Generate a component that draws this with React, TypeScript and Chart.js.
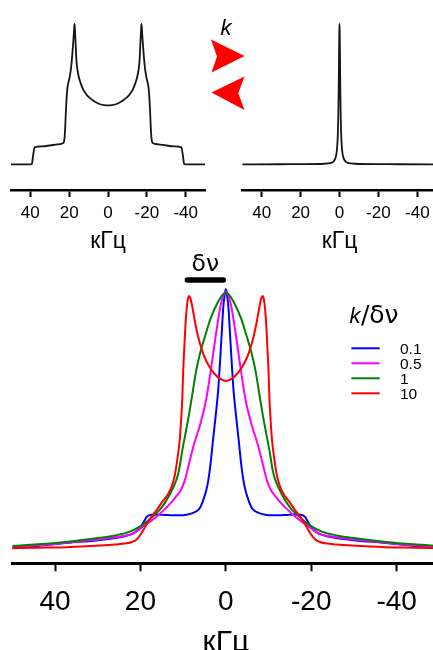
import React, { useEffect, useRef } from 'react';
import { Chart, registerables } from 'chart.js';

Chart.register(...registerables);

// Frequency offsets in kHz, intensities normalised to the tallest peak of each panel.
const tickValues = [-40, -20, 0, 20, 40];

// Slow exchange: static powder pattern
const staticFreq = [
  50, 45, 40, 39.2, 38.6, 37.8, 34, 30, 26, 23.2, 22.6, 22.2, 21.6, 21.0, 20.6, 19.7, 19.0, 18.4,
  17.9, 17.6, 17.4, 17.2, 17.0, 16.7, 16.3, 15.8, 15.0, 14.0, 13.0, 11.5, 10, 8, 6, 4, 2, 0,
  -2, -4, -6, -8, -10, -11.5, -13, -14, -15, -15.8, -16.3, -16.7, -17.0, -17.2, -17.4, -17.6,
  -17.9, -18.4, -19.0, -19.7, -20.6, -21.0, -21.6, -22.2, -22.6, -23.2, -26, -30, -34, -37.8,
  -38.6, -39.2, -40, -45, -50,
];
const staticIntensity = [
  0, 0, 0, 0.003, 0.06, 0.121, 0.128, 0.134, 0.142, 0.15, 0.165, 0.22, 0.4, 0.53, 0.57, 0.624,
  0.69, 0.78, 0.87, 0.93, 0.975, 1.0, 0.95, 0.87, 0.75, 0.68, 0.62, 0.575, 0.54, 0.505, 0.48,
  0.458, 0.44, 0.428, 0.422, 0.42,
  0.422, 0.428, 0.44, 0.458, 0.48, 0.505, 0.54, 0.575, 0.62, 0.68, 0.75, 0.87, 0.95, 1.0, 0.975,
  0.93, 0.87, 0.78, 0.69, 0.624, 0.57, 0.53, 0.4, 0.22, 0.165, 0.15, 0.142, 0.134, 0.128, 0.121,
  0.06, 0.003, 0, 0, 0,
];

// Fast exchange: single narrow line
const narrowFreq = [
  50, 30, 20, 10, 6, 4, 3, 2.2, 1.7, 1.3, 1.0, 0.8, 0.6, 0.45, 0.3, 0.2, 0.1, 0,
  -0.1, -0.2, -0.3, -0.45, -0.6, -0.8, -1.0, -1.3, -1.7, -2.2, -3, -4, -6, -10, -20, -30, -50,
];
const narrowIntensity = [
  0, 0.0005, 0.001, 0.002, 0.006, 0.012, 0.022, 0.04, 0.065, 0.107, 0.17, 0.24, 0.36, 0.5, 0.69,
  0.84, 0.95, 1.0,
  0.95, 0.84, 0.69, 0.5, 0.36, 0.24, 0.17, 0.107, 0.065, 0.04, 0.022, 0.012, 0.006, 0.002, 0.001,
  0.0005, 0,
];

// Intermediate exchange, series labelled by k/δν
const ratioLabels = ['0.1', '0.5', '1', '10'];
const ratioColors = ['#0000ff', '#ff00ff', '#008000', '#ff0000'];

const freqK01 = [
  50, 44, 37.5, 29.5, 24, 21.7, 20.1, 19.2, 18.5, 17.5, 16.2, 14, 12.3, 10.5, 9.2, 8.0, 6.9, 6.0,
  5.3, 4.6, 4.1, 3.5, 3.0, 2.4, 1.8, 1.4, 1.0, 0.6, 0.3, 0,
  -0.3, -0.6, -1.0, -1.4, -1.8, -2.4, -3.0, -3.5, -4.1, -4.6, -5.3, -6.0, -6.9, -8.0, -9.2, -10.5,
  -12.3, -14, -16.2, -17.5, -18.5, -19.2, -20.1, -21.7, -24, -29.5, -37.5, -44, -50,
];
const intK01 = [
  0.004, 0.012, 0.023, 0.035, 0.048, 0.06, 0.08, 0.105, 0.124, 0.132, 0.133, 0.131, 0.13, 0.13,
  0.132, 0.137, 0.145, 0.16, 0.188, 0.225, 0.265, 0.34, 0.42, 0.51, 0.61, 0.71, 0.82, 0.93, 0.975,
  1.0,
  0.975, 0.93, 0.82, 0.71, 0.61, 0.51, 0.42, 0.34, 0.265, 0.225, 0.188, 0.16, 0.145, 0.137, 0.132,
  0.13, 0.13, 0.131, 0.133, 0.132, 0.124, 0.105, 0.08, 0.06, 0.048, 0.035, 0.023, 0.012, 0.004,
];

const freqK05 = [
  50, 44, 37.5, 29.5, 26, 22, 19.4, 18.5, 16.2, 13.9, 12.6, 11.5, 10.5, 9.6, 8.6, 7.5, 6.0, 4.6,
  3.5, 2.4, 1.25, 0.6, 0,
  -0.6, -1.25, -2.4, -3.5, -4.6, -6.0, -7.5, -8.6, -9.6, -10.5, -11.5, -12.6, -13.9, -16.2, -18.5,
  -19.4, -22, -26, -29.5, -37.5, -44, -50,
];
const intK05 = [
  0.007, 0.014, 0.024, 0.037, 0.045, 0.058, 0.086, 0.096, 0.125, 0.16, 0.182, 0.205, 0.228, 0.265,
  0.33, 0.4, 0.48, 0.575, 0.69, 0.817, 0.935, 0.975, 0.99,
  0.975, 0.935, 0.817, 0.69, 0.575, 0.48, 0.4, 0.33, 0.265, 0.228, 0.205, 0.182, 0.16, 0.125,
  0.096, 0.086, 0.058, 0.045, 0.037, 0.024, 0.014, 0.007,
];

const freqK1 = [
  50, 44, 37.5, 29.5, 26, 22.5, 19.5, 17, 15, 13.2, 11.6, 11.0, 10.3, 9.5, 8.6, 7.8, 6.9, 6.0, 4.9,
  3.5, 2.0, 1.0, 0,
  -1.0, -2.0, -3.5, -4.9, -6.0, -6.9, -7.8, -8.6, -9.5, -10.3, -11.0, -11.6, -13.2, -15, -17,
  -19.5, -22.5, -26, -29.5, -37.5, -44, -50,
];
const intK1 = [
  0.012, 0.018, 0.027, 0.043, 0.052, 0.067, 0.093, 0.127, 0.16, 0.208, 0.265, 0.3, 0.37, 0.44,
  0.52, 0.6, 0.69, 0.755, 0.817, 0.89, 0.945, 0.973, 0.986,
  0.973, 0.945, 0.89, 0.817, 0.755, 0.69, 0.6, 0.52, 0.44, 0.37, 0.3, 0.265, 0.208, 0.16, 0.127,
  0.093, 0.067, 0.052, 0.043, 0.027, 0.018, 0.012,
];

const freqK10 = [
  50, 44, 37.3, 29.5, 26, 23.3, 22, 20.9, 20.0, 19.0, 17.8, 16.2, 14.7, 13.7, 12.8, 12.0, 11.4,
  10.8, 10.5, 10.2, 10.0, 9.8, 9.5, 9.2, 8.9, 8.6, 8.3, 7.9, 7.3, 6.5, 5.5, 4.5, 3.4, 2.5, 1.5, 0,
  -1.5, -2.5, -3.4, -4.5, -5.5, -6.5, -7.3, -7.9, -8.3, -8.6, -8.9, -9.2, -9.5, -9.8, -10.0,
  -10.2, -10.5, -10.8, -11.4, -12.0, -12.8, -13.7, -14.7, -16.2, -17.8, -19.0, -20.0, -20.9, -22,
  -23.3, -26, -29.5, -37.3, -44, -50,
];
const intK10 = [
  0.003, 0.005, 0.007, 0.013, 0.017, 0.022, 0.027, 0.037, 0.055, 0.082, 0.115, 0.15, 0.185,
  0.207, 0.235, 0.28, 0.34, 0.42, 0.49, 0.58, 0.68, 0.75, 0.85, 0.92, 0.96, 0.973, 0.965, 0.935,
  0.88, 0.817, 0.76, 0.72, 0.69, 0.671, 0.656, 0.646,
  0.656, 0.671, 0.69, 0.72, 0.76, 0.817, 0.88, 0.935, 0.965, 0.973, 0.96, 0.92, 0.85, 0.75, 0.68,
  0.58, 0.49, 0.42, 0.34, 0.28, 0.235, 0.207, 0.185, 0.15, 0.115, 0.082, 0.055, 0.037, 0.027,
  0.022, 0.017, 0.013, 0.007, 0.005, 0.003,
];

// Span of the δν bar above the spectra (kHz)
const deltaNuSpan = [9.0, 0.6];

const FONT = "'Liberation Sans', Arial, Helvetica, sans-serif";
const GREEK = "'DejaVu Sans', 'Liberation Sans', sans-serif";

const toPoints = (xs: number[], ys: number[]) => xs.map((x, i) => ({ x, y: ys[i] }));

function freqAxis(o: {
  size: number;
  titleSize: number;
  tickLength: number;
  tickPad: number;
  titlePadTop: number;
  border: number;
}) {
  return {
    type: 'linear' as const,
    reverse: true,
    min: -50,
    max: 50,
    afterBuildTicks: (scale: any) => {
      scale.ticks = tickValues.map((v) => ({ value: v }));
    },
    border: { display: true, color: '#000', width: o.border },
    grid: {
      display: true,
      drawOnChartArea: false,
      drawTicks: true,
      tickLength: o.tickLength,
      tickWidth: 2,
      tickColor: '#000',
    },
    ticks: {
      color: '#000',
      padding: o.tickPad,
      maxRotation: 0,
      autoSkip: false,
      font: { family: FONT, size: o.size },
      callback: (v: any) => String(v),
    },
    title: {
      display: true,
      text: 'кГц',
      color: '#000',
      font: { family: FONT, size: o.titleSize },
      padding: { top: o.titlePadTop, bottom: 0 },
    },
  };
}

const baseOptions = {
  responsive: false,
  animation: false as const,
  devicePixelRatio: 1,
  events: [] as any[],
  plugins: { legend: { display: false }, tooltip: { enabled: false } },
};

const lineStyle = {
  pointRadius: 0,
  fill: false,
  cubicInterpolationMode: 'monotone' as const,
};

// Red exchange arrows and the rate label k, left of the fast-exchange panel
const exchangeMarks = {
  id: 'exchangeMarks',
  afterDraw(chart: any) {
    const { ctx } = chart;
    ctx.save();
    ctx.fillStyle = '#ff0000';
    ctx.beginPath();
    ctx.moveTo(11, 39.5);
    ctx.lineTo(44.5, 56);
    ctx.lineTo(11.5, 72.5);
    ctx.lineTo(17, 56.5);
    ctx.closePath();
    ctx.fill();
    ctx.beginPath();
    ctx.moveTo(44.5, 76.5);
    ctx.lineTo(11.5, 92.5);
    ctx.lineTo(44.5, 110);
    ctx.lineTo(38.3, 93.3);
    ctx.closePath();
    ctx.fill();
    ctx.fillStyle = '#000';
    ctx.font = `italic 22px ${FONT}`;
    ctx.textAlign = 'center';
    ctx.textBaseline = 'alphabetic';
    ctx.fillText('k', 26, 35);
    ctx.restore();
  },
};

// δν bar with its label, and the k/δν legend
const exchangeLegend = {
  id: 'exchangeLegend',
  afterDatasetsDraw(chart: any) {
    const { ctx, chartArea, scales } = chart;
    const xs = scales.x;
    ctx.save();
    const xa = xs.getPixelForValue(deltaNuSpan[0]);
    const xb = xs.getPixelForValue(deltaNuSpan[1]);
    const yBar = chartArea.top;
    ctx.strokeStyle = '#000';
    ctx.lineWidth = 5.5;
    ctx.lineCap = 'round';
    ctx.beginPath();
    ctx.moveTo(xa, yBar);
    ctx.lineTo(xb, yBar);
    ctx.stroke();

    ctx.fillStyle = '#000';
    ctx.textBaseline = 'alphabetic';
    ctx.textAlign = 'center';
    ctx.font = `23.5px ${GREEK}`;
    ctx.fillText('δν', (xa + xb) / 2, yBar - 9.5);

    const lx = chartArea.right - 88;
    const ty = chartArea.top + 42.5;
    ctx.textAlign = 'left';
    ctx.font = `italic 22px ${FONT}`;
    ctx.fillText('k', lx - 2, ty);
    const kw = ctx.measureText('k').width;
    ctx.font = `25px ${GREEK}`;
    ctx.fillText('/δν', lx - 2 + kw + 0.5, ty);

    ctx.lineCap = 'butt';
    ctx.lineWidth = 2;
    ctx.font = `15.5px ${FONT}`;
    ctx.textBaseline = 'middle';
    chart.data.datasets.forEach((ds: any, i: number) => {
      const y = chartArea.top + 68.3 + i * 15;
      ctx.strokeStyle = ds.borderColor;
      ctx.beginPath();
      ctx.moveTo(lx, y);
      ctx.lineTo(lx + 28.3, y);
      ctx.stroke();
      ctx.fillStyle = '#000';
      ctx.fillText(ds.label, lx + 48.6, y + 1);
    });
    ctx.restore();
  },
};

function buildStatic(): any {
  return {
    type: 'line',
    data: {
      datasets: [
        { data: toPoints(staticFreq, staticIntensity), borderColor: '#151515', borderWidth: 1.8, ...lineStyle },
      ],
    },
    options: {
      ...baseOptions,
      layout: { padding: { left: 10.9, right: 9.9, top: 10, bottom: 0.7 } },
      scales: {
        x: freqAxis({ size: 17, titleSize: 23, tickLength: 7, tickPad: 6, titlePadTop: -1.7, border: 2.5 }),
        y: { display: false, min: -0.1832, max: 1.0998 },
      },
    },
  };
}

function buildNarrow(): any {
  return {
    type: 'line',
    data: {
      datasets: [
        { data: toPoints(narrowFreq, narrowIntensity), borderColor: '#151515', borderWidth: 1.8, ...lineStyle },
      ],
    },
    options: {
      ...baseOptions,
      layout: { padding: { left: 42.25, right: 8.25, top: 10, bottom: 0.7 } },
      scales: {
        x: freqAxis({ size: 17, titleSize: 23, tickLength: 7, tickPad: 6, titlePadTop: -1.7, border: 2.5 }),
        y: { display: false, min: -0.1832, max: 1.0998 },
      },
    },
    plugins: [exchangeMarks],
  };
}

function buildExchange(): any {
  const series = [
    [freqK01, intK01],
    [freqK05, intK05],
    [freqK1, intK1],
    [freqK10, intK10],
  ];
  return {
    type: 'line',
    data: {
      datasets: series.map(([f, v], i) => ({
        label: ratioLabels[i],
        data: toPoints(f, v),
        borderColor: ratioColors[i],
        borderWidth: 2,
        order: series.length - i,
        ...lineStyle,
      })),
    },
    options: {
      ...baseOptions,
      layout: { padding: { left: 12.3, right: 5.6, top: 30, bottom: 0.5 } },
      scales: {
        x: freqAxis({ size: 28, titleSize: 30, tickLength: 8, tickPad: 13.8, titlePadTop: -8, border: 3 }),
        y: { display: false, min: -0.055, max: 1.0346 },
      },
    },
    plugins: [exchangeLegend],
  };
}

function ChartCanvas(props: { left: number; top: number; width: number; height: number; build: () => any }) {
  const ref = useRef<HTMLCanvasElement>(null);
  useEffect(() => {
    const chart = new Chart(ref.current as HTMLCanvasElement, props.build());
    return () => chart.destroy();
  }, []);
  return (
    <canvas
      ref={ref}
      width={props.width}
      height={props.height}
      style={{ position: 'absolute', left: props.left, top: props.top, width: props.width, height: props.height }}
    />
  );
}

export default function App() {
  return (
    <div
      style={{
        position: 'fixed',
        left: 0,
        top: 0,
        width: 433,
        height: 650,
        overflow: 'hidden',
        background: '#fff',
      }}
    >
      <ChartCanvas left={0} top={0} width={215} height={256} build={buildStatic} />
      <ChartCanvas left={200} top={0} width={245} height={256} build={buildNarrow} />
      <ChartCanvas left={0} top={250} width={445} height={411} build={buildExchange} />
    </div>
  );
}
